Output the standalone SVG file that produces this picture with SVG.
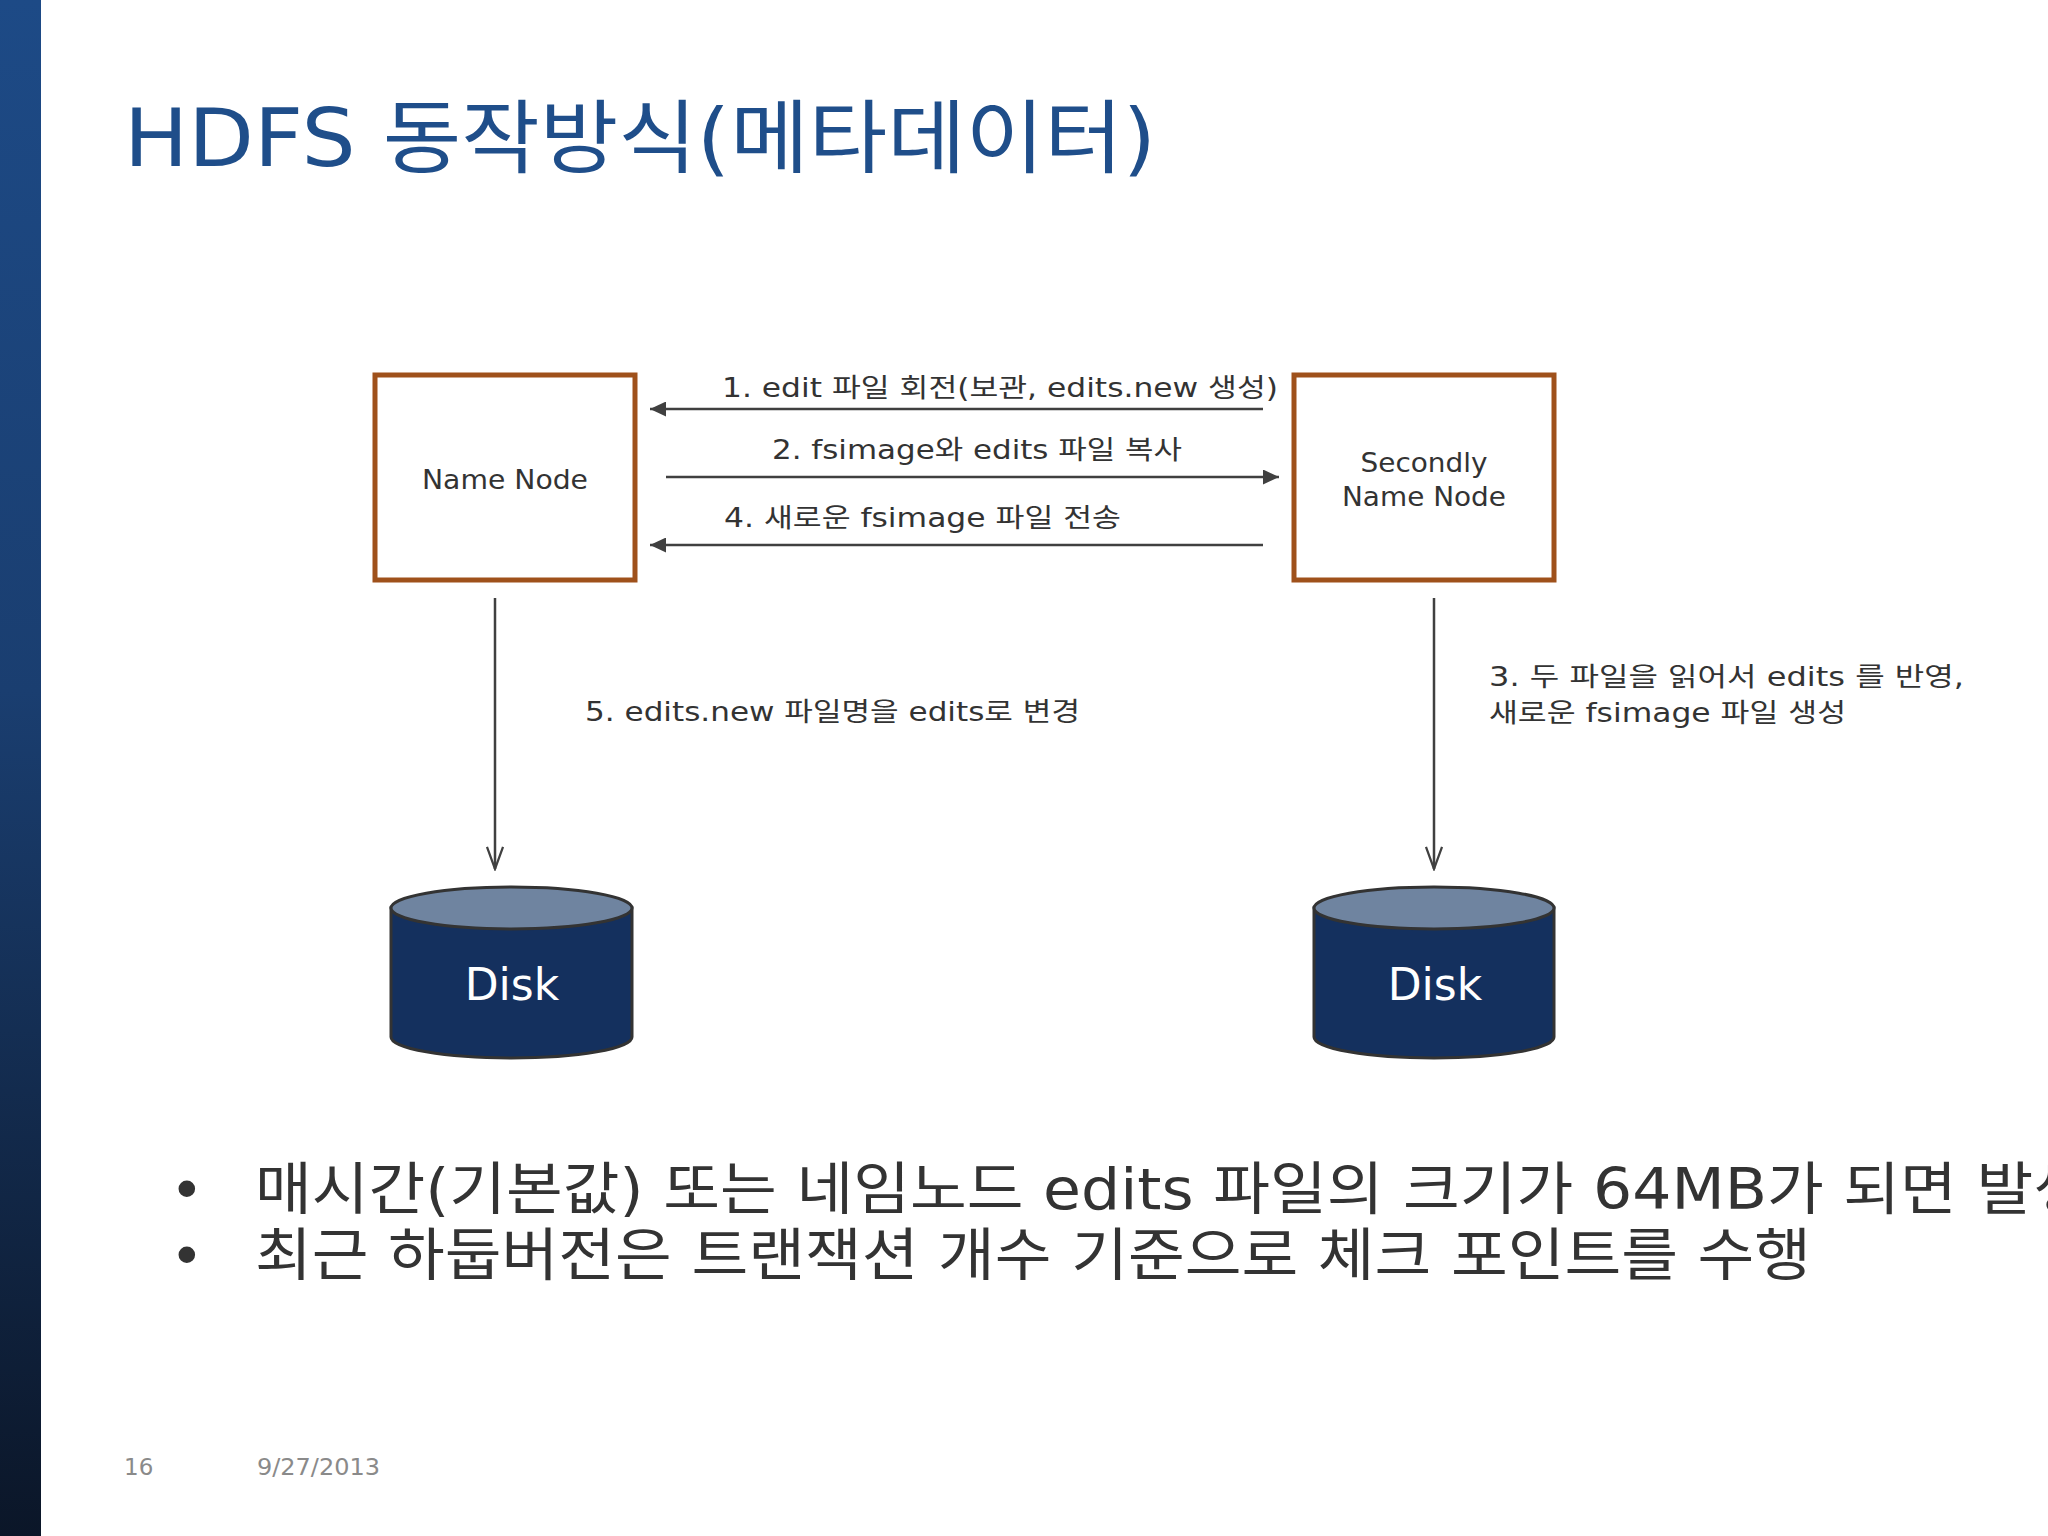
<svg xmlns="http://www.w3.org/2000/svg" width="2048" height="1536" viewBox="0 0 2048 1536">
<defs>
<linearGradient id="bar" x1="0" y1="0" x2="0" y2="1">
<stop offset="0" stop-color="#1d4a86"/>
<stop offset="0.45" stop-color="#1a3e70"/>
<stop offset="1" stop-color="#0b1628"/>
</linearGradient>
<marker id="tri" viewBox="0 0 16 15" refX="16" refY="7.5" markerWidth="16" markerHeight="15" markerUnits="userSpaceOnUse" orient="auto">
<path d="M0,0 L16,7.5 L0,15 Z" fill="#404040"/>
</marker>
<marker id="vee" viewBox="0 0 26 18" refX="24" refY="9" markerWidth="26" markerHeight="18" markerUnits="userSpaceOnUse" orient="auto">
<path d="M2,1 L24,9 L2,17" fill="none" stroke="#404040" stroke-width="2.2"/>
</marker>
</defs>
<style>
.box{fill:#ffffff;stroke:#9f511b;stroke-width:5}
.lbl{font-family:"DejaVu Sans","Noto Sans CJK KR",sans-serif;font-size:26px;fill:#333333}
.node{font-family:"DejaVu Sans","Noto Sans CJK KR",sans-serif;font-size:27px;fill:#333333;text-anchor:middle}
.conn{stroke:#404040;stroke-width:2.5;fill:none}
.cylbody{fill:#14305e;stroke:#333333;stroke-width:3}
.cyltop{fill:#6f84a0;stroke:#333333;stroke-width:3}
.disk{font-family:"DejaVu Sans",sans-serif;font-size:44px;fill:#ffffff;text-anchor:middle}
.bul{font-family:"DejaVu Sans","Noto Sans CJK KR",sans-serif;font-size:57px;fill:#333333}
.foot{font-family:"DejaVu Sans",sans-serif;font-size:23px;fill:#8a8a8a}
</style>
<rect x="0" y="0" width="2048" height="1536" fill="#ffffff"/>
<rect x="0" y="0" width="41" height="1536" fill="url(#bar)"/>
<text x="124" y="166" font-family="DejaVu Sans,Noto Sans CJK KR,sans-serif" font-size="80" fill="#1f4e8a" textLength="1032" lengthAdjust="spacingAndGlyphs">HDFS 동작방식(메타데이터)</text>

<g id="namenode">
<rect class="box" x="375" y="375" width="260" height="205"/>
<text class="node" x="505" y="489" textLength="166" lengthAdjust="spacingAndGlyphs">Name Node</text>
</g>
<g id="secondnode">
<rect class="box" x="1294" y="375" width="260" height="205"/>
<text class="node" x="1424" y="472" textLength="127" lengthAdjust="spacingAndGlyphs">Secondly</text>
<text class="node" x="1424" y="506" textLength="164" lengthAdjust="spacingAndGlyphs">Name Node</text>
</g>
<g id="disk1">
<path class="cylbody" d="M391,908 L391,1037 A120.5,21 0 0 0 632,1037 L632,908 Z"/>
<ellipse class="cyltop" cx="511.5" cy="908" rx="120.5" ry="21"/>
<text class="disk" x="512" y="1000">Disk</text>
</g>
<g id="disk2">
<path class="cylbody" d="M1314,908 L1314,1037 A120,21 0 0 0 1554,1037 L1554,908 Z"/>
<ellipse class="cyltop" cx="1434" cy="908" rx="120" ry="21"/>
<text class="disk" x="1435" y="1000">Disk</text>
</g>

<g id="connectors">
<line class="conn" x1="1263" y1="409" x2="650" y2="409" marker-end="url(#tri)"/>
<line class="conn" x1="666" y1="477" x2="1279" y2="477" marker-end="url(#tri)"/>
<line class="conn" x1="1263" y1="545" x2="650" y2="545" marker-end="url(#tri)"/>
<line class="conn" x1="495" y1="598" x2="495" y2="869" marker-end="url(#vee)"/>
<line class="conn" x1="1434" y1="598" x2="1434" y2="869" marker-end="url(#vee)"/>
<text class="lbl" x="722" y="397" textLength="556" lengthAdjust="spacingAndGlyphs">1. edit 파일 회전(보관, edits.new 생성)</text>
<text class="lbl" x="772" y="459" textLength="410" lengthAdjust="spacingAndGlyphs">2. fsimage와 edits 파일 복사</text>
<text class="lbl" x="724" y="527" textLength="397" lengthAdjust="spacingAndGlyphs">4. 새로운 fsimage 파일 전송</text>
<text class="lbl" x="585" y="721" textLength="495" lengthAdjust="spacingAndGlyphs">5. edits.new 파일명을 edits로 변경</text>
<text class="lbl" x="1489" y="686" textLength="475" lengthAdjust="spacingAndGlyphs">3. 두 파일을 읽어서 edits 를 반영,</text>
<text class="lbl" x="1489" y="722" textLength="357" lengthAdjust="spacingAndGlyphs">새로운 fsimage 파일 생성</text>
</g>

<text class="bul" x="170" y="1210">•</text>
<text class="bul" x="255" y="1209" textLength="1835" lengthAdjust="spacingAndGlyphs">매시간(기본값) 또는 네임노드 edits 파일의 크기가 64MB가 되면 발생</text>
<text class="bul" x="170" y="1276">•</text>
<text class="bul" x="255" y="1275" textLength="1556" lengthAdjust="spacingAndGlyphs">최근 하둡버전은 트랜잭션 개수 기준으로 체크 포인트를 수행</text>

<text class="foot" x="124" y="1475">16</text>
<text class="foot" x="257" y="1475" textLength="123" lengthAdjust="spacingAndGlyphs">9/27/2013</text>
</svg>
